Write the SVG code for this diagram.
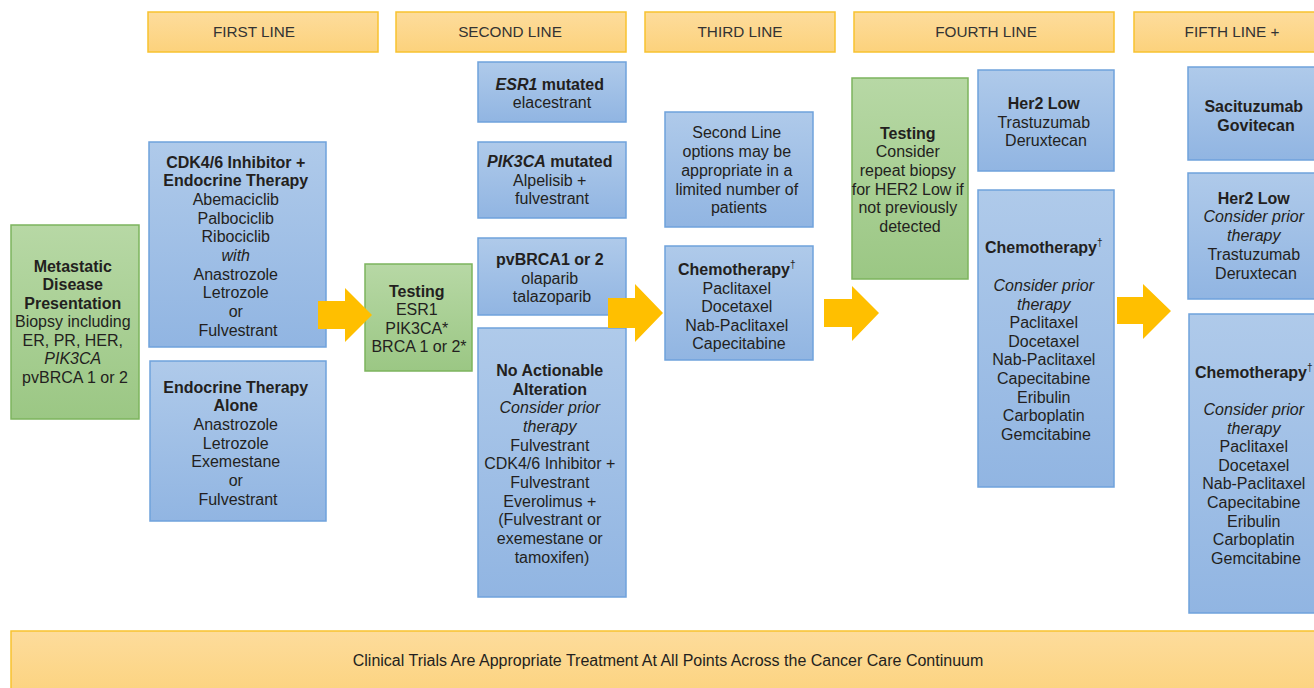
<svg xmlns="http://www.w3.org/2000/svg" width="1314" height="688" viewBox="0 0 1314 688">
<defs>
<linearGradient id="gBlue" x1="0" y1="0" x2="0" y2="1"><stop offset="0" stop-color="#afcaea"/><stop offset="1" stop-color="#91b5e2"/></linearGradient>
<linearGradient id="gGreen" x1="0" y1="0" x2="0" y2="1"><stop offset="0" stop-color="#b7d8a5"/><stop offset="1" stop-color="#9bc784"/></linearGradient>
<linearGradient id="gGold" x1="0" y1="0" x2="0" y2="1"><stop offset="0" stop-color="#fddc9c"/><stop offset="1" stop-color="#fcd27c"/></linearGradient>
<style>
.blue{fill:url(#gBlue);stroke:#6fa2dc;stroke-width:1.5}
.green{fill:url(#gGreen);stroke:#7cb45d;stroke-width:1.5}
.gold{fill:url(#gGold);stroke:#f8c22f;stroke-width:1.5}
.arrow{fill:#ffbf00}
text{font-family:"Liberation Sans",Arial,Helvetica,sans-serif;fill:#231f20;text-anchor:middle}
.t{font-size:16px}
.h{font-size:15.3px;fill:#333}
.b{font-weight:bold}
.i{font-style:italic}
.f{font-size:16px}
.dg{font-size:10px}
</style>
</defs>

<g id="headers">
<g id="h1"><rect class="gold" x="148" y="12" width="230" height="40"/><text class="h" x="254" y="37">FIRST LINE</text></g>
<g id="h2"><rect class="gold" x="396" y="12" width="230" height="40"/><text class="h" x="510" y="37">SECOND LINE</text></g>
<g id="h3"><rect class="gold" x="645" y="12" width="190" height="40"/><text class="h" x="740" y="37">THIRD LINE</text></g>
<g id="h4"><rect class="gold" x="854" y="12" width="260" height="40"/><text class="h" x="986" y="37">FOURTH LINE</text></g>
<g id="h5"><rect class="gold" x="1134" y="12" width="196" height="40"/><text class="h" x="1232" y="37">FIFTH LINE +</text></g>
</g>

<g id="metastatic">
<rect class="green" x="11" y="225" width="128" height="194"/>
<text class="t" x="75">
<tspan class="b" x="75" y="272">Metastatic</tspan>
<tspan class="b" x="75" y="290">Disease</tspan>
<tspan class="b" x="75" y="309">Presentation</tspan>
<tspan x="75" y="327">Biopsy including</tspan>
<tspan x="75" y="346">ER, PR, HER,</tspan>
<tspan class="i" x="75" y="364">PIK3CA</tspan>
<tspan x="75" y="383">pvBRCA 1 or 2</tspan>
</text>
</g>

<g id="cdk">
<rect class="blue" x="149" y="142" width="177" height="205"/>
<text class="t">
<tspan class="b" x="238" y="167.5">CDK4/6 Inhibitor +</tspan>
<tspan class="b" x="238" y="186.2">Endocrine Therapy</tspan>
<tspan x="238" y="204.9">Abemaciclib</tspan>
<tspan x="238" y="223.6">Palbociclib</tspan>
<tspan x="238" y="242.3">Ribociclib</tspan>
<tspan class="i" x="238" y="261">with</tspan>
<tspan x="238" y="279.7">Anastrozole</tspan>
<tspan x="238" y="298.4">Letrozole</tspan>
<tspan x="238" y="317.1">or</tspan>
<tspan x="238" y="335.8">Fulvestrant</tspan>
</text>
</g>

<g id="endocrine">
<rect class="blue" x="150" y="361" width="176" height="160"/>
<text class="t">
<tspan class="b" x="238" y="392.5">Endocrine Therapy</tspan>
<tspan class="b" x="238" y="411.2">Alone</tspan>
<tspan x="238" y="429.9">Anastrozole</tspan>
<tspan x="238" y="448.6">Letrozole</tspan>
<tspan x="238" y="467.3">Exemestane</tspan>
<tspan x="238" y="486">or</tspan>
<tspan x="238" y="504.7">Fulvestrant</tspan>
</text>
</g>

<g id="testing1">
<rect class="green" x="365" y="264" width="107" height="107"/>
<text class="t">
<tspan class="b" x="419" y="296.5">Testing</tspan>
<tspan x="419" y="315.1">ESR1</tspan>
<tspan x="419" y="333.7">PIK3CA*</tspan>
<tspan x="419" y="352.3">BRCA 1 or 2*</tspan>
</text>
</g>

<g id="esr1">
<rect class="blue" x="478" y="62" width="148" height="60"/>
<text class="t">
<tspan x="552" y="90"><tspan class="b i">ESR1</tspan><tspan class="b"> mutated</tspan></tspan>
<tspan x="552" y="108">elacestrant</tspan>
</text>
</g>

<g id="pik3ca">
<rect class="blue" x="478" y="142" width="148" height="76"/>
<text class="t">
<tspan x="552" y="167"><tspan class="b i">PIK3CA</tspan><tspan class="b"> mutated</tspan></tspan>
<tspan x="552" y="185.7">Alpelisib +</tspan>
<tspan x="552" y="204.4">fulvestrant</tspan>
</text>
</g>

<g id="pvbrca">
<rect class="blue" x="478" y="238" width="148" height="77"/>
<text class="t">
<tspan class="b" x="552" y="265">pvBRCA1 or 2</tspan>
<tspan x="552" y="283.7">olaparib</tspan>
<tspan x="552" y="302.4">talazoparib</tspan>
</text>
</g>

<g id="noactionable">
<rect class="blue" x="478" y="328" width="148" height="269"/>
<text class="t">
<tspan class="b" x="552" y="376">No Actionable</tspan>
<tspan class="b" x="552" y="394.6">Alteration</tspan>
<tspan class="i" x="552" y="413.3">Consider prior</tspan>
<tspan class="i" x="552" y="432">therapy</tspan>
<tspan x="552" y="450.6">Fulvestrant</tspan>
<tspan x="552" y="469.2">CDK4/6 Inhibitor +</tspan>
<tspan x="552" y="487.9">Fulvestrant</tspan>
<tspan x="552" y="506.5">Everolimus +</tspan>
<tspan x="552" y="525.2">(Fulvestrant or</tspan>
<tspan x="552" y="543.8">exemestane or</tspan>
<tspan x="552" y="562.5">tamoxifen)</tspan>
</text>
</g>

<g id="secondline-options">
<rect class="blue" x="665" y="112" width="148" height="115"/>
<text class="t">
<tspan x="739" y="138.3">Second Line</tspan>
<tspan x="739" y="157">options may be</tspan>
<tspan x="739" y="175.8">appropriate in a</tspan>
<tspan x="739" y="194.5">limited number of</tspan>
<tspan x="739" y="213.3">patients</tspan>
</text>
</g>

<g id="chemo3">
<rect class="blue" x="665" y="246" width="148" height="114"/>
<text class="t">
<tspan x="739" y="275"><tspan class="b">Chemotherapy</tspan><tspan class="dg" dy="-7">†</tspan></tspan>
<tspan x="739" y="293.5">Paclitaxel</tspan>
<tspan x="739" y="312">Docetaxel</tspan>
<tspan x="739" y="330.5">Nab-Paclitaxel</tspan>
<tspan x="739" y="349">Capecitabine</tspan>
</text>
</g>

<g id="testing4">
<rect class="green" x="852" y="78" width="116" height="201"/>
<text class="t">
<tspan class="b" x="910" y="138.7">Testing</tspan>
<tspan x="910" y="157.3">Consider</tspan>
<tspan x="910" y="175.9">repeat biopsy</tspan>
<tspan x="910" y="194.5">for HER2 Low if</tspan>
<tspan x="910" y="213.1">not previously</tspan>
<tspan x="910" y="231.7">detected</tspan>
</text>
</g>

<g id="her2low4">
<rect class="blue" x="978" y="70" width="136" height="101"/>
<text class="t">
<tspan class="b" x="1046" y="108.7">Her2 Low</tspan>
<tspan x="1046" y="127.5">Trastuzumab</tspan>
<tspan x="1046" y="146.3">Deruxtecan</tspan>
</text>
</g>

<g id="chemo4">
<rect class="blue" x="978" y="190" width="136" height="297"/>
<text class="t">
<tspan x="1046" y="252.7"><tspan class="b">Chemotherapy</tspan><tspan class="dg" dy="-7">†</tspan></tspan>
<tspan class="i" x="1046" y="291">Consider prior</tspan>
<tspan class="i" x="1046" y="309.6">therapy</tspan>
<tspan x="1046" y="328.2">Paclitaxel</tspan>
<tspan x="1046" y="346.8">Docetaxel</tspan>
<tspan x="1046" y="365.4">Nab-Paclitaxel</tspan>
<tspan x="1046" y="384">Capecitabine</tspan>
<tspan x="1046" y="402.6">Eribulin</tspan>
<tspan x="1046" y="421.2">Carboplatin</tspan>
<tspan x="1046" y="439.8">Gemcitabine</tspan>
</text>
</g>

<g id="sacituzumab">
<rect class="blue" x="1188" y="67" width="142" height="93"/>
<text class="t">
<tspan class="b" x="1256" y="112">Sacituzumab</tspan>
<tspan class="b" x="1256" y="131">Govitecan</tspan>
</text>
</g>

<g id="her2low5">
<rect class="blue" x="1188" y="173" width="142" height="126"/>
<text class="t">
<tspan class="b" x="1256" y="203.6">Her2 Low</tspan>
<tspan class="i" x="1256" y="222.4">Consider prior</tspan>
<tspan class="i" x="1256" y="241.2">therapy</tspan>
<tspan x="1256" y="260">Trastuzumab</tspan>
<tspan x="1256" y="278.8">Deruxtecan</tspan>
</text>
</g>

<g id="chemo5">
<rect class="blue" x="1189" y="314" width="141" height="299"/>
<text class="t">
<tspan x="1256" y="377.7"><tspan class="b">Chemotherapy</tspan><tspan class="dg" dy="-7">†</tspan></tspan>
<tspan class="i" x="1256" y="415">Consider prior</tspan>
<tspan class="i" x="1256" y="433.6">therapy</tspan>
<tspan x="1256" y="452.2">Paclitaxel</tspan>
<tspan x="1256" y="470.8">Docetaxel</tspan>
<tspan x="1256" y="489.4">Nab-Paclitaxel</tspan>
<tspan x="1256" y="508">Capecitabine</tspan>
<tspan x="1256" y="526.6">Eribulin</tspan>
<tspan x="1256" y="545.2">Carboplatin</tspan>
<tspan x="1256" y="563.8">Gemcitabine</tspan>
</text>
</g>

<g id="clinical-trials">
<rect class="gold" x="11" y="631" width="1320" height="70"/>
<text class="f" x="668" y="666">Clinical Trials Are Appropriate Treatment At All Points Across the Cancer Care Continuum</text>
</g>

<g id="connectors">
<path class="arrow" d="M318,301 H345 V288 L372,315 L345,342 V329 H318 Z"/>
<path class="arrow" d="M608,298 H635 V284 L663,313 L635,342 V328 H608 Z"/>
<path class="arrow" d="M824,299 H852 V286 L879,313 L852,341 V327 H824 Z"/>
<path class="arrow" d="M1117,297 H1143 V284 L1171,311 L1143,339 V324 H1117 Z"/>
</g>
</svg>
